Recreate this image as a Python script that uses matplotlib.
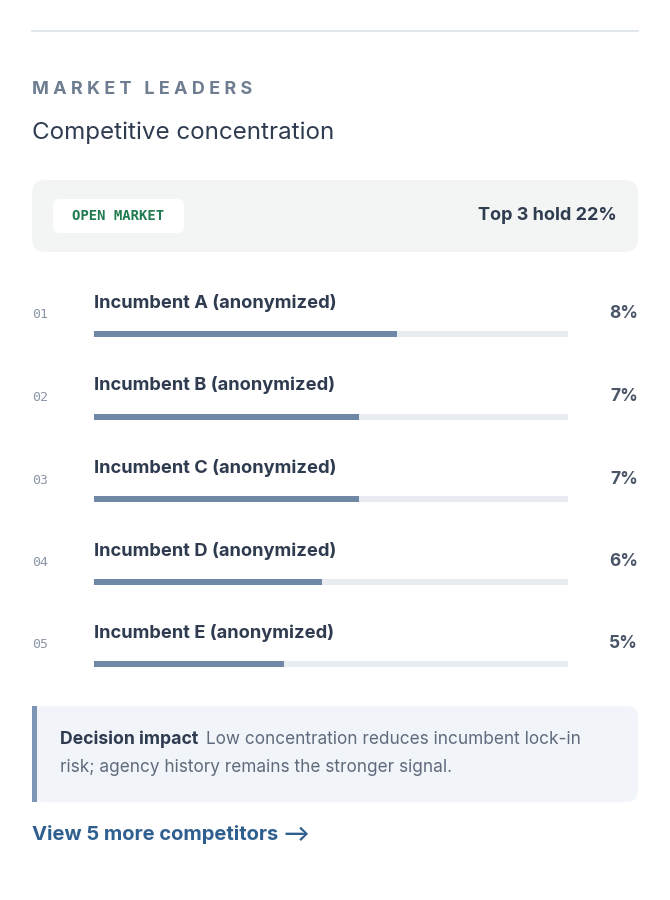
import matplotlib
matplotlib.use("Agg")
import matplotlib.pyplot as plt
from matplotlib.patches import FancyBboxPatch, Rectangle

names = ["Incumbent A (anonymized)", "Incumbent B (anonymized)", "Incumbent C (anonymized)",
         "Incumbent D (anonymized)", "Incumbent E (anonymized)"]
shares = [8, 7, 7, 6, 5]
ranks = ["01", "02", "03", "04", "05"]
scale_max = 12.5

W, H = 670, 900
fig = plt.figure(figsize=(W/100, H/100), dpi=100)
fig.patch.set_facecolor("white")
bg = fig.add_axes([0, 0, 1, 1])
bg.set_xlim(0, W); bg.set_ylim(H, 0); bg.axis("off")

FONT = "Inter"
dark = "#2f3b4f"
bg.plot([32, 638], [31, 31], color="#dde2ea", lw=1.2)
bg.text(32, 89, "M A R K E T   L E A D E R S", fontsize=13, color="#6f7d91", weight="bold",
        family=FONT, va="center")
bg.text(32, 133, "Competitive concentration", fontsize=17.4, color=dark, family=FONT, va="center")

bg.add_patch(FancyBboxPatch((32, 180), 606, 72, boxstyle="round,pad=0,rounding_size=14",
                            fc="#f2f5f4", ec="none"))
bg.add_patch(FancyBboxPatch((53, 199), 131, 34, boxstyle="round,pad=0,rounding_size=7",
                            fc="white", ec="none"))
bg.text(118.5, 216, "OPEN MARKET", fontsize=10, color="#1f7a4d", family="DejaVu Sans Mono",
        weight="bold", ha="center", va="center")
bg.text(617, 216, "Top 3 hold 22%", fontsize=13, color=dark, family=FONT, weight="bold",
        ha="right", va="center")

y0, dy = 303, 82.5
for i, (n, s, r) in enumerate(zip(names, shares, ranks)):
    y = y0 + i*dy
    bg.text(32, y+12, r, fontsize=9.5, color="#8a95a5", family="DejaVu Sans Mono", va="center")
    bg.text(94, y, n, fontsize=13.2, color=dark, family=FONT, weight="bold", va="center")
    bg.text(638, y+11, f"{s}%", fontsize=12.5, color="#4a5568", family=FONT, weight="bold",
            ha="right", va="center")
    yb = y + 31
    ax = fig.add_axes([94/W, 1-(yb+3)/H, 474/W, 6/H])
    ax.set_xlim(0, scale_max); ax.set_ylim(0, 1); ax.axis("off")
    ax.barh(0.5, scale_max, height=1, color="#e8ecf1")
    ax.barh(0.5, s, height=1, color="#6f88a5")

bg.add_patch(FancyBboxPatch((32, 706), 606, 96, boxstyle="round,pad=0,rounding_size=12",
                            fc="#f1f4f9", ec="none"))
bg.add_patch(Rectangle((32, 706), 5, 96, fc="#7d96b6", ec="none"))
bg.text(60, 739, "Decision impact", fontsize=12.7, color=dark, family=FONT, weight="bold", va="center")
bg.text(206, 739, "Low concentration reduces incumbent lock-in", fontsize=12.4, color="#5f6b7c",
        family=FONT, va="center")
bg.text(60, 767, "risk; agency history remains the stronger signal.", fontsize=12.4,
        color="#5f6b7c", family=FONT, va="center")
bg.text(32, 834, "View 5 more competitors ⟶", fontsize=14.5, color="#2f5f8f",
        family=[FONT, "DejaVu Sans"], weight="bold", va="center")

fig.savefig("out.png", dpi=100, facecolor="white")
